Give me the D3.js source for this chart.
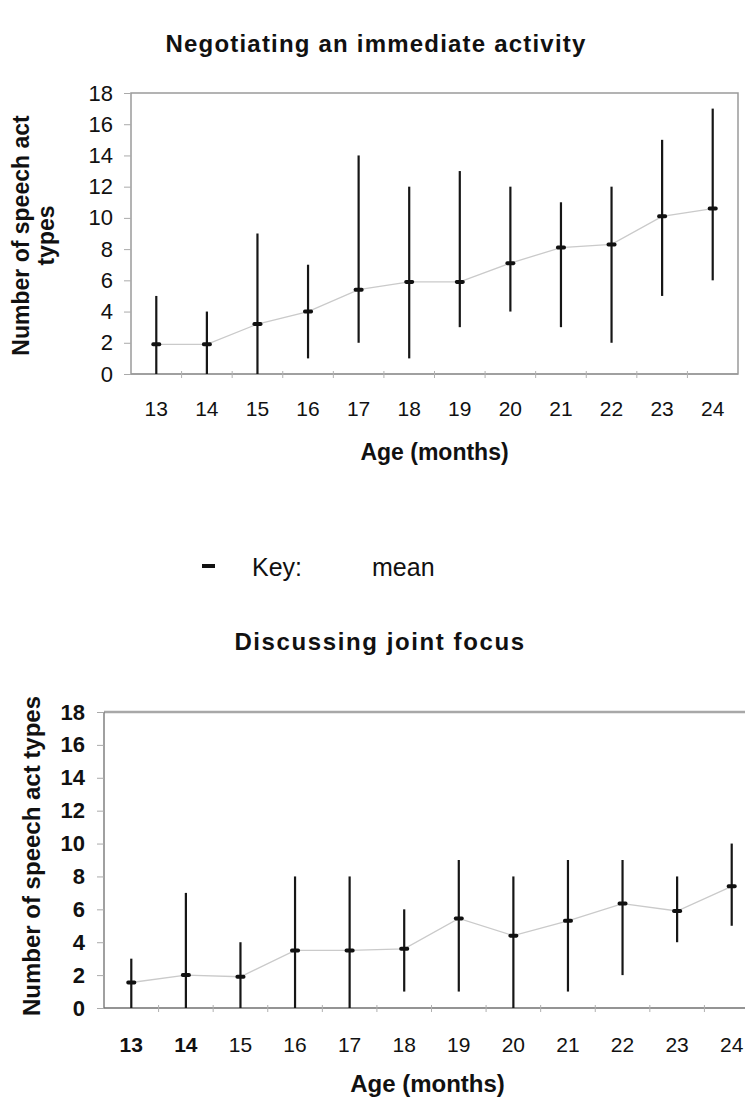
<!DOCTYPE html>
<html>
<head>
<meta charset="utf-8">
<script src="https://cdn.jsdelivr.net/npm/d3@7"></script>
<style>
  html, body { margin: 0; padding: 0; background: #fff; }
  svg { display: block; font-family: "Liberation Sans", Arial, sans-serif; }
</style>
</head>
<body>
<script>
// Age categories (months)
const ages = ["13", "14", "15", "16", "17", "18", "19", "20", "21", "22", "23", "24"];
const yTicks = [0, 2, 4, 6, 8, 10, 12, 14, 16, 18];

// Negotiating an immediate activity: mean and range per age
const negMean = [1.9, 1.9, 3.2, 4.0, 5.4, 5.9, 5.9, 7.1, 8.1, 8.3, 10.1, 10.6];
const negLow  = [0, 0, 0, 1, 2, 1, 3, 4, 3, 2, 5, 6];
const negHigh = [5, 4, 9, 7, 14, 12, 13, 12, 11, 12, 15, 17];

// Discussing joint focus: mean and range per age
const jointMean = [1.55, 2.0, 1.9, 3.5, 3.5, 3.6, 5.45, 4.4, 5.3, 6.35, 5.9, 7.4];
const jointLow  = [0, 0, 0, 0, 0, 1, 1, 0, 1, 2, 4, 5];
const jointHigh = [3, 7, 4, 8, 8, 6, 9, 8, 9, 9, 8, 10];

const W = 745, H = 1100;
const svg = d3.select("body").append("svg").attr("width", W).attr("height", H);

function drawPanel(cfg) {
  const g = svg.append("g");
  const x = d3.scaleBand().domain(ages).range([cfg.left, cfg.right]);
  const y = d3.scaleLinear().domain([0, 18]).range([cfg.bottom, cfg.top]);
  const rows = ages.map((a, i) => ({ age: a, mean: cfg.mean[i], lo: cfg.low[i], hi: cfg.high[i] }));
  const cx = d => x(d.age) + x.bandwidth() / 2;

  // title
  g.append("text")
    .attr("x", cfg.titleX).attr("y", cfg.titleY)
    .attr("text-anchor", "middle")
    .attr("font-size", cfg.titleSize).attr("font-weight", "bold")
    .attr("letter-spacing", cfg.titleSpacing)
    .attr("fill", "#111")
    .text(cfg.title);

  // plot frame
  if (cfg.fullBox) {
    g.append("rect")
      .attr("x", cfg.left).attr("y", cfg.top)
      .attr("width", cfg.right - cfg.left).attr("height", cfg.bottom - cfg.top)
      .attr("fill", "none").attr("stroke", "#9a9a9a").attr("stroke-width", 1.5);
  } else {
    g.append("line")
      .attr("x1", cfg.left).attr("x2", W)
      .attr("y1", cfg.top).attr("y2", cfg.top)
      .attr("stroke", "#a8a8a8").attr("stroke-width", 2.5);
    g.append("line")
      .attr("x1", cfg.left).attr("x2", cfg.left)
      .attr("y1", cfg.top).attr("y2", cfg.bottom)
      .attr("stroke", "#808080").attr("stroke-width", 1.5);
  }

  // y axis
  const yAxis = d3.axisLeft(y).tickValues(yTicks).tickSize(7).tickPadding(cfg.yPad);
  const ya = g.append("g").attr("transform", `translate(${cfg.left},0)`).call(yAxis);
  ya.select(".domain").remove();
  ya.selectAll(".tick line").attr("stroke", "#aaa");
  ya.selectAll(".tick text")
    .attr("font-size", cfg.yTickSize)
    .attr("font-weight", cfg.yTickWeight)
    .attr("fill", "#111")
    .attr("font-family", "Liberation Sans, Arial, sans-serif");

  // x axis line with ticks between categories
  g.append("line")
    .attr("x1", cfg.left).attr("x2", cfg.fullBox ? cfg.right : W)
    .attr("y1", cfg.bottom).attr("y2", cfg.bottom)
    .attr("stroke", cfg.fullBox ? "#9a9a9a" : "#707070").attr("stroke-width", 1.5);
  g.selectAll(".xsep").data(ages.slice(1)).join("line")
    .attr("x1", d => x(d)).attr("x2", d => x(d))
    .attr("y1", cfg.bottom - 3).attr("y2", cfg.bottom + 4)
    .attr("stroke", "#b0b0b0").attr("stroke-width", 1);

  // x labels
  g.selectAll(".xlab").data(rows).join("text")
    .attr("x", cx).attr("y", cfg.xLabelY)
    .attr("text-anchor", "middle")
    .attr("font-size", cfg.xTickSize)
    .attr("font-weight", d => cfg.boldX.includes(d.age) ? "bold" : "normal")
    .attr("fill", "#111")
    .text(d => d.age);

  // x title
  g.append("text")
    .attr("x", (cfg.left + cfg.right) / 2 + cfg.xTitleShift).attr("y", cfg.xTitleY)
    .attr("text-anchor", "middle")
    .attr("font-size", cfg.axisTitleSize).attr("font-weight", "bold")
    .attr("fill", "#111")
    .text("Age (months)");

  // y title (rotated, one or two lines)
  cfg.yTitleLines.forEach((t, i) => {
    g.append("text")
      .attr("transform", `translate(${cfg.yTitleX[i]},${(cfg.top + cfg.bottom) / 2 + cfg.yTitleShift}) rotate(-90)`)
      .attr("text-anchor", "middle")
      .attr("dy", "0.35em")
      .attr("font-size", cfg.axisTitleSize).attr("font-weight", "bold")
      .attr("fill", "#111")
      .text(t);
  });

  // line joining means
  const line = d3.line().x(cx).y(d => y(d.mean));
  g.append("path").datum(rows)
    .attr("d", line)
    .attr("fill", "none")
    .attr("stroke", "#cacaca").attr("stroke-width", 1.3);

  // range bars
  g.selectAll(".range").data(rows).join("line")
    .attr("x1", cx).attr("x2", cx)
    .attr("y1", d => y(d.lo)).attr("y2", d => y(d.hi))
    .attr("stroke", "#161616").attr("stroke-width", 2.2);

  // mean markers
  g.selectAll(".mean").data(rows).join("rect")
    .attr("x", d => cx(d) - 5).attr("y", d => y(d.mean) - 2)
    .attr("width", 10).attr("height", 4).attr("rx", 1.8)
    .attr("fill", "#111");
}

drawPanel({
  title: "Negotiating an immediate activity",
  titleX: 376, titleY: 52, titleSize: 24, titleSpacing: 1.2,
  left: 131, right: 738, top: 93, bottom: 374,
  mean: negMean, low: negLow, high: negHigh,
  fullBox: true,
  yTickSize: 22, xTickSize: 21, yPad: 11, yTickWeight: "normal", boldX: [],
  xLabelY: 416, xTitleY: 460, xTitleShift: 0,
  axisTitleSize: 23,
  yTitleLines: ["Number of speech act", "types"], yTitleX: [21, 46], yTitleShift: 2
});

// legend for the mean marker
const key = svg.append("g");
key.append("rect").attr("x", 202).attr("y", 564).attr("width", 13).attr("height", 4).attr("fill", "#111");
key.append("text").attr("x", 252).attr("y", 576).attr("font-size", 25).attr("fill", "#111").text("Key:");
key.append("text").attr("x", 372).attr("y", 576).attr("font-size", 25).attr("fill", "#111").text("mean");

drawPanel({
  title: "Discussing joint focus",
  titleX: 380, titleY: 650, titleSize: 24, titleSpacing: 1.6,
  left: 104, right: 759, top: 712, bottom: 1008,
  mean: jointMean, low: jointLow, high: jointHigh,
  fullBox: false,
  yTickSize: 22, xTickSize: 21, yPad: 12, yTickWeight: "bold", boldX: ["13", "14"],
  xLabelY: 1052, xTitleY: 1092, xTitleShift: -4,
  axisTitleSize: 24,
  yTitleLines: ["Number of speech act types"], yTitleX: [32], yTitleShift: -4
});
</script>
</body>
</html>
